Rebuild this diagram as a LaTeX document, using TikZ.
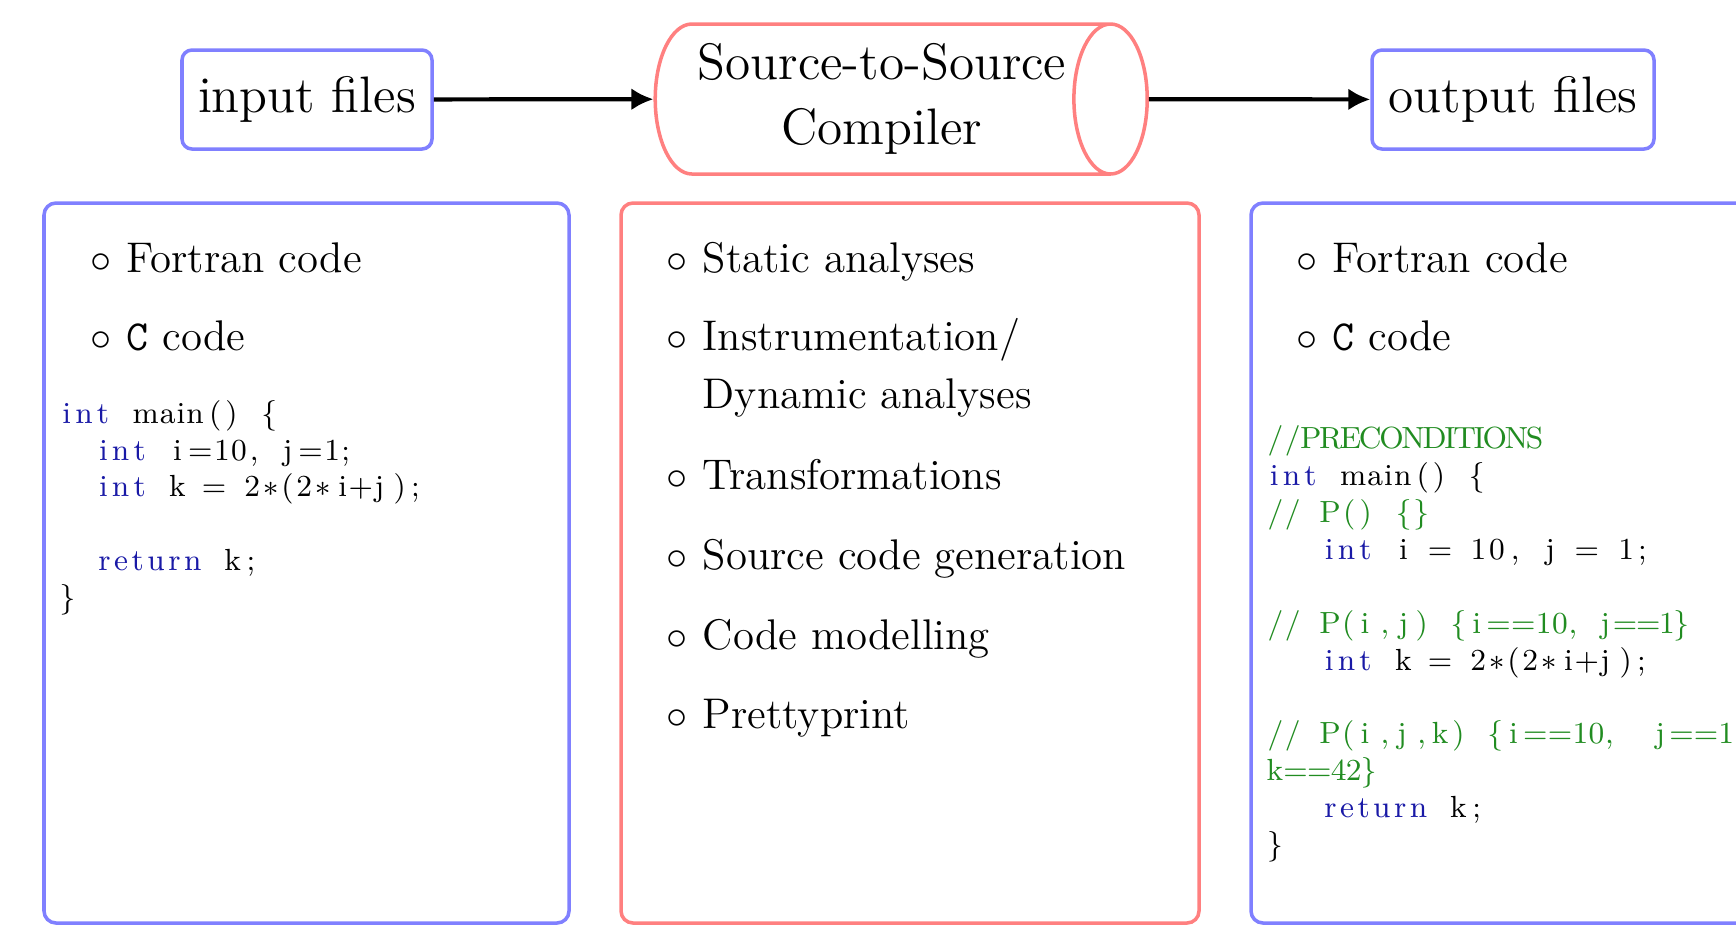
\documentclass[tikz,border=0pt]{standalone}
\usepackage{listings}
\usetikzlibrary{shapes.geometric,arrows.meta,positioning}

\definecolor{kwblue}{rgb}{0.1,0.1,0.65}
\definecolor{cmtgreen}{rgb}{0.13,0.55,0.13}

\lstset{language=C, basicstyle=\fontsize{8.7}{10.5}\selectfont,
  keywordstyle=\color{kwblue}, commentstyle=\color{cmtgreen},
  moredelim=[is][\color{cmtgreen}]{|}{|},
  columns=fixed, aboveskip=0pt, belowskip=0pt, xleftmargin=0pt,
  showstringspaces=false}

\newcommand{\bul}{\llap{$\circ$\hspace{0.15cm}}}

\begin{document}
\begin{tikzpicture}[line width=1pt,
    filebox/.style={draw=blue!50, rounded corners=0.1cm, minimum height=0.99cm,
      inner sep=0pt, font=\fontsize{14.6}{18}\selectfont},
    panel/.style={rounded corners=0.12cm, minimum height=7.2cm, inner sep=0pt},
    itm/.style={anchor=base west, inner sep=0pt, font=\fontsize{12.2}{15}\selectfont},
    code/.style={anchor=north west, inner sep=0pt, text width=7cm}]
    \useasboundingbox (0,0) rectangle (17.36,-9.37);

    % top row
    \node[filebox, minimum width=2.5cm] (input) at (3.07,-0.995) {input files};
    \node[cylinder, draw=red!50, aspect=0.66, minimum height=4.92cm, minimum width=1.5cm,
      inner sep=0pt, align=center, font=\fontsize{14.6}{18.5}\selectfont]
      (compiler) at (8.82,-0.99) {Source-to-Source\\Compiler};
    \node[filebox, minimum width=2.82cm] (output) at (15.13,-0.995) {output files};

    \draw[-{Latex[length=0.22cm,width=0.22cm]}, line width=1.2pt] (input) -- (compiler);
    \draw[-{Latex[length=0.22cm,width=0.22cm]}, line width=1.2pt] (compiler) -- (output);

    % panels
    \node[panel, draw=blue!50, minimum width=5.25cm] (inpanel) at (3.065,-5.63) {};
    \node[panel, draw=red!50, minimum width=5.78cm] (midpanel) at (9.10,-5.63) {};
    \node[panel, draw=blue!50, minimum width=5.78cm] (outpanel) at (15.40,-5.63) {};

    % input side
    \node[itm] (in1) at (1.25,-2.72) {\bul Fortran code};
    \node[itm] (in2) at (1.25,-3.50) {\bul\texttt{C} code};
    \node[code] (incode) at (0.565,-3.845) {
\begin{lstlisting}
int main() {
  int i=10, j=1;
  int k = 2*(2*i+j);

  return k;
}
\end{lstlisting}
    };

    % compiler side
    \node[itm] (mid1) at (7.01,-2.72) {\bul Static analyses};
    \node[itm] (mid2) at (7.01,-3.50) {\bul Instrumentation/};
    \node[itm] (mid2b) at (7.01,-4.085) {Dynamic analyses};
    \node[itm] (mid3) at (7.01,-4.89) {\bul Transformations};
    \node[itm] (mid4) at (7.01,-5.69) {\bul Source code generation};
    \node[itm] (mid5) at (7.01,-6.49) {\bul Code modelling};
    \node[itm] (mid6) at (7.01,-7.28) {\bul Prettyprint};

    % output side
    \node[itm] (out1) at (13.31,-2.72) {\bul Fortran code};
    \node[itm] (out2) at (13.31,-3.50) {\bul\texttt{C} code};
    \node[code] (outcode) at (12.64,-4.10) {
\begin{lstlisting}
//PRECONDITIONS
int main() {
// P() {}
   int i = 10, j = 1;

// P(i,j) {i==10, j==1}
   int k = 2*(2*i+j);

// P(i,j,k) {i==10,  j==1,
|k==42}|
   return k;
}
\end{lstlisting}
    };
\end{tikzpicture}
\end{document}
